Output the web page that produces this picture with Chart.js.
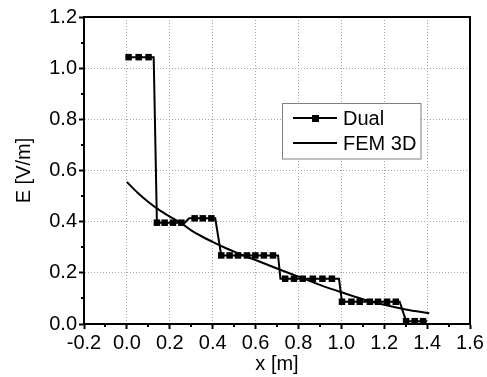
<!DOCTYPE html>
<html>
<head>
<meta charset="utf-8">
<script src="https://cdn.jsdelivr.net/npm/chart.js@4.4.1/dist/chart.umd.min.js"></script>
<style>
  html, body { margin: 0; padding: 0; background: #fff; }
  canvas { display: block; }
</style>
</head>
<body>
<canvas id="c" width="487" height="377"></canvas>
<script>
// ---------- data ----------
const xTicks = [-0.2, 0.0, 0.2, 0.4, 0.6, 0.8, 1.0, 1.2, 1.4, 1.6];
const yTicks = [0.0, 0.2, 0.4, 0.6, 0.8, 1.0, 1.2];

// Dual: sample points drawn with square markers
const dualMarkX = [0.008, 0.055, 0.101,
                   0.140, 0.176, 0.215, 0.254,
                   0.316, 0.354, 0.394,
                   0.440, 0.479, 0.518, 0.560, 0.599, 0.639, 0.681,
                   0.738, 0.779, 0.820, 0.867, 0.912, 0.956,
                   1.003, 1.047, 1.086, 1.133, 1.171, 1.213, 1.254,
                   1.302, 1.342, 1.381];
const dualMarkY = [1.043, 1.043, 1.043,
                   0.396, 0.396, 0.396, 0.396,
                   0.413, 0.413, 0.413,
                   0.268, 0.268, 0.268, 0.268, 0.268, 0.268, 0.268,
                   0.177, 0.177, 0.177, 0.177, 0.177, 0.177,
                   0.087, 0.087, 0.087, 0.087, 0.087, 0.087, 0.087,
                   0.011, 0.011, 0.011];
// Dual: line vertices without markers (step corners)
const dualCornerX = [0.125, 0.270, 0.290, 0.412, 0.705, 0.716, 0.989, 1.272, 1.400];
const dualCornerY = [1.043, 0.396, 0.413, 0.413, 0.268, 0.177, 0.177, 0.087, 0.011];

// FEM 3D
const femX = [0.00, 0.05, 0.10, 0.15, 0.20, 0.25, 0.30, 0.35, 0.40, 0.45, 0.50, 0.55,
              0.60, 0.70, 0.80, 0.90, 1.00, 1.10, 1.20, 1.30, 1.41];
const femY = [0.555, 0.513, 0.477, 0.446, 0.420, 0.396, 0.366, 0.342, 0.321, 0.301, 0.283, 0.266,
              0.250, 0.217, 0.185, 0.153, 0.124, 0.097, 0.075, 0.057, 0.042];

const seriesNames = ['Dual', 'FEM 3D'];
const xTitle = 'x [m]';
const yTitle = 'E [V/m]';

// ---------- build ----------
const zip = (xs, ys) => xs.map((x, i) => ({x, y: ys[i]}));
const dualLine = zip(dualMarkX, dualMarkY).concat(zip(dualCornerX, dualCornerY)).sort((a, b) => a.x - b.x);

const FONT = "'Liberation Sans', Arial, Helvetica, sans-serif";
const xMin = xTicks[0], xMax = xTicks[xTicks.length - 1];
const yMin = yTicks[0], yMax = yTicks[yTicks.length - 1];

const frame = {
  id: 'frame',
  afterDatasetsDraw(chart) {
    const {ctx, chartArea: a, scales} = chart;
    ctx.save();
    // minor ticks
    ctx.strokeStyle = '#000';
    ctx.lineWidth = 2;
    ctx.beginPath();
    for (let i = 0; i < xTicks.length - 1; i++) {
      const px = Math.round(scales.x.getPixelForValue((xTicks[i] + xTicks[i + 1]) / 2));
      ctx.moveTo(px, a.bottom); ctx.lineTo(px, a.bottom + 3);
    }
    for (let i = 0; i < yTicks.length - 1; i++) {
      const py = Math.round(scales.y.getPixelForValue((yTicks[i] + yTicks[i + 1]) / 2));
      ctx.moveTo(a.left, py); ctx.lineTo(a.left - 3, py);
    }
    ctx.stroke();
    // frame
    ctx.lineWidth = 2;
    ctx.strokeRect(Math.round(a.left), Math.round(a.top), Math.round(a.right - a.left), Math.round(a.bottom - a.top));

    // legend
    const bx = 282.5, by = 103.5, bw = 138.5, bh = 55.5;
    ctx.fillStyle = '#fff';
    ctx.fillRect(bx, by, bw, bh);
    ctx.lineWidth = 1;
    ctx.strokeStyle = '#808080';
    ctx.strokeRect(bx, by, bw, bh);
    ctx.strokeStyle = '#000';
    ctx.lineWidth = 2;
    ctx.beginPath();
    ctx.moveTo(293, 118); ctx.lineTo(337, 118);
    ctx.moveTo(293, 143); ctx.lineTo(337, 143);
    ctx.stroke();
    ctx.fillStyle = '#000';
    ctx.fillRect(312, 115, 7, 7);
    ctx.font = '20px ' + FONT;
    ctx.textBaseline = 'alphabetic';
    ctx.textAlign = 'left';
    ctx.fillText(seriesNames[0], 343, 125);
    ctx.fillText(seriesNames[1], 343, 150);
    ctx.restore();
  }
};

const gridColor = (edgeA, edgeB) => (c) => {
  const v = c.tick ? c.tick.value : null;
  if (v === null) return 'rgba(0,0,0,0)';
  if (Math.abs(v - edgeA) < 1e-9 || Math.abs(v - edgeB) < 1e-9) return 'rgba(0,0,0,0)';
  return '#a8a8a8';
};

new Chart(document.getElementById('c'), {
  type: 'scatter',
  data: {
    datasets: [
      {
        label: seriesNames[1],
        data: zip(femX, femY),
        showLine: true,
        borderColor: '#000',
        borderWidth: 2,
        pointRadius: 0,
        cubicInterpolationMode: 'monotone',
        fill: false
      },
      {
        label: seriesNames[0],
        data: dualLine,
        showLine: true,
        borderColor: '#000',
        borderWidth: 2,
        pointRadius: 0,
        tension: 0,
        fill: false
      },
      {
        label: seriesNames[0] + ' markers',
        data: zip(dualMarkX, dualMarkY),
        showLine: false,
        pointStyle: 'rect',
        pointRadius: 4.6,
        backgroundColor: '#000',
        borderColor: '#000',
        borderWidth: 0
      }
    ]
  },
  options: {
    responsive: false,
    animation: false,
    events: [],
    layout: { padding: { top: 17, right: 17, left: 0, bottom: 0 } },
    plugins: { legend: { display: false }, tooltip: { enabled: false } },
    scales: {
      x: {
        type: 'linear',
        min: xMin, max: xMax,
        afterBuildTicks: (s) => { s.ticks = xTicks.map(v => ({value: v})); },
        ticks: {
          font: { family: FONT, size: 20 }, color: '#000', padding: 2,
          maxRotation: 0, autoSkip: false,
          callback: (v) => Number(v).toFixed(1)
        },
        grid: {
          color: gridColor(xMin, xMax), lineWidth: 1,
          tickLength: 5, tickColor: '#000', tickWidth: 2, tickBorderDash: []
        },
        border: { display: true, color: '#000', width: 2, dash: [1, 2] },
        title: { display: true, text: xTitle, color: '#000', font: { family: FONT, size: 20 }, padding: { top: 0, bottom: 1 } },
        afterFit: (s) => { s.height = 53; }
      },
      y: {
        type: 'linear',
        min: yMin, max: yMax,
        afterBuildTicks: (s) => { s.ticks = yTicks.map(v => ({value: v})); },
        ticks: {
          font: { family: FONT, size: 20 }, color: '#000', padding: 2,
          autoSkip: false,
          callback: (v) => Number(v).toFixed(1)
        },
        grid: {
          color: gridColor(yMin, yMax), lineWidth: 1,
          tickLength: 5, tickColor: '#000', tickWidth: 2, tickBorderDash: []
        },
        border: { display: true, color: '#000', width: 2, dash: [1, 2] },
        title: { display: true, text: yTitle, color: '#000', font: { family: FONT, size: 20 }, padding: { top: 12, bottom: 0 } },
        afterFit: (s) => { s.width = 84; }
      }
    }
  },
  plugins: [frame]
});
</script>
</body>
</html>
